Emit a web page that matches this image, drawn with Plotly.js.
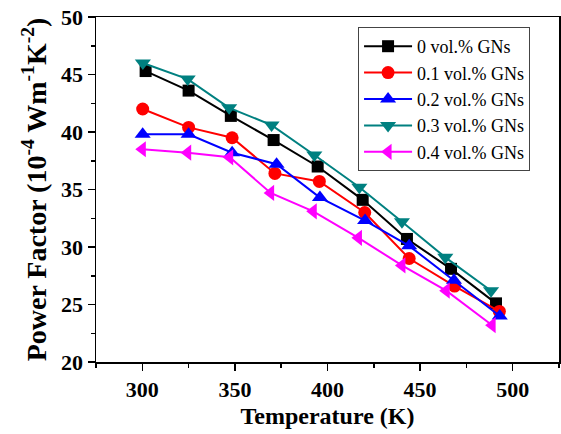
<!DOCTYPE html>
<html>
<head>
<meta charset="utf-8">
<script src="https://cdn.plot.ly/plotly-3.0.1.min.js"></script>
<style>html,body{margin:0;padding:0;background:#fff;}#chart{width:561px;height:434px;}</style>
</head>
<body>
<div id="chart"></div>
<script>
var seriesNames = ["0 vol.% GNs", "0.1 vol.% GNs", "0.2 vol.% GNs", "0.3 vol.% GNs", "0.4 vol.% GNs"];

var temp0 = [301.8, 325, 347.8, 370.9, 394.7, 419.0, 442.9, 466.7, 491.0];
var pf0   = [45.3, 43.6, 41.4, 39.3, 37.0, 34.1, 30.7, 28.1, 25.1];

var temp1 = [300.2, 325, 348.5, 371.6, 395.6, 420.1, 444.1, 468.6, 492.8];
var pf1   = [42.0, 40.4, 39.5, 36.4, 35.7, 33.0, 29.0, 26.6, 24.4];

var temp2 = [300.2, 325, 348.5, 372.5, 395.9, 420.3, 444.1, 468.3, 493.0];
var pf2   = [39.8, 39.8, 38.2, 37.2, 34.3, 32.3, 30.1, 27.1, 24.0];

var temp3 = [300.3, 324.5, 346.9, 369.8, 392.9, 417.2, 440.2, 463.6, 488.3];
var pf3   = [46.0, 44.6, 42.1, 40.6, 38.0, 35.2, 32.2, 29.1, 26.2];

var temp4 = [300.0, 324.5, 347.2, 369.3, 392.3, 416.7, 440.2, 464.1, 488.9];
var pf4   = [38.5, 38.2, 37.8, 34.7, 33.1, 30.8, 28.4, 26.2, 23.2];

var xTickVals = [300, 350, 400, 450, 500];
var yTickVals = [20, 25, 30, 35, 40, 45, 50];

var colors = ["#000000", "#ff0000", "#0000ff", "#008080", "#ff00ff"];
var symbols = ["square", "circle", "triangle-up", "triangle-down", "triangle-left"];
var sizes = [12, 13, 14, 14, 14];
var xs = [temp0, temp1, temp2, temp3, temp4];
var ys = [pf0, pf1, pf2, pf3, pf4];

var traces = [];
for (var i = 0; i < 5; i++) {
  traces.push({
    x: xs[i], y: ys[i], name: seriesNames[i],
    type: "scatter", mode: "lines+markers",
    line: {color: colors[i], width: 2},
    marker: {color: colors[i], symbol: symbols[i], size: sizes[i]}
  });
}

var font = "Liberation Serif";
var layout = {
  width: 561, height: 434,
  margin: {l: 96, r: 2, t: 17, b: 72},
  paper_bgcolor: "#fff", plot_bgcolor: "#fff",
  showlegend: true,
  legend: {
    x: 0.566, y: 0.971, xanchor: "left", yanchor: "top",
    bgcolor: "#fff", bordercolor: "#444", borderwidth: 1,
    font: {family: font, size: 18, color: "#000"},
    itemwidth: 48,
    tracegroupgap: 0
  },
  xaxis: {
    range: [275, 525], tickvals: xTickVals,
    ticks: "outside", ticklen: 7, tickwidth: 1.5, tickcolor: "#000",
    minor: {dtick: 25, tick0: 275, ticks: "outside", ticklen: 4, tickwidth: 1.5, tickcolor: "#000"},
    showline: true, linecolor: "#000", linewidth: 1.5, mirror: true,
    showgrid: false, zeroline: false,
    tickfont: {family: font, size: 22, color: "#000", weight: "bold"},
    title: {text: "<b>Temperature (K)</b>", font: {family: font, size: 24, color: "#000"}, standoff: 6}
  },
  yaxis: {
    range: [20, 50], tickvals: yTickVals,
    ticks: "outside", ticklen: 7, tickwidth: 1.5, tickcolor: "#000",
    minor: {dtick: 2.5, tick0: 20, ticks: "outside", ticklen: 4, tickwidth: 1.5, tickcolor: "#000"},
    showline: true, linecolor: "#000", linewidth: 1.5, mirror: true,
    showgrid: false, zeroline: false,
    tickfont: {family: font, size: 22, color: "#000", weight: "bold"},
    title: {text: "<b>Power Factor (10<sup>-4</sup> Wm<sup>-1</sup>K<sup>-2</sup>)</b>", font: {family: font, size: 28, color: "#000"}, standoff: 6}
  }
};

Plotly.newPlot("chart", traces, layout, {displayModeBar: false, staticPlot: true});
</script>
</body>
</html>
